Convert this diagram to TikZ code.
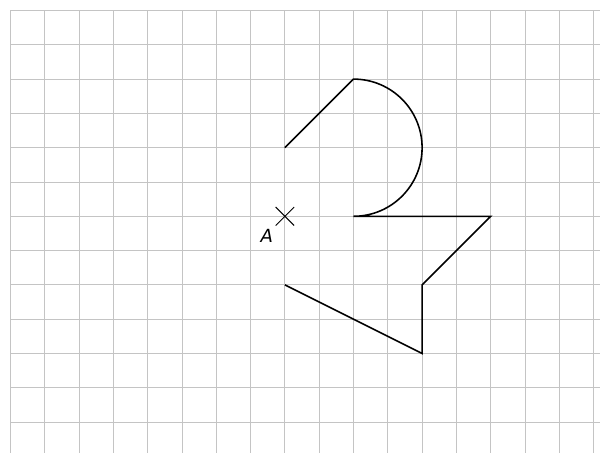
\documentclass[tikz,border=0pt]{standalone}
\usepackage{fontspec}
\setsansfont{DejaVu Sans}
\usetikzlibrary{calc}
\begin{document}
\begin{tikzpicture}[x=1cm,y=1cm,
  gridline/.style={draw={rgb,255:red,196;green,196;blue,196},line width=0.8pt},
  figline/.style={draw=black,line width=1.3pt,line join=miter},
  crossline/.style={draw=black,line width=0.8pt}]
\useasboundingbox (-0.306,0.306) rectangle (17.187,-12.901);
\fill[white] (-0.306,0.306) rectangle (17.187,-12.901);
\foreach \i in {0,...,17} \draw[gridline] (\i,0) -- (\i,-12.901);
\foreach \j in {0,...,12} \draw[gridline] (0,-\j) -- (17.187,-\j);
\coordinate (A) at (8,-6);
\coordinate (P1) at (8,-4);
\coordinate (P2) at (10,-2);
\coordinate (P3) at (10,-6);
\coordinate (P4) at (14,-6);
\coordinate (P5) at (12,-8);
\coordinate (P6) at (12,-10);
\coordinate (P7) at (8,-8);
\draw[figline] (P1) -- (P2) arc[start angle=90,end angle=-90,radius=2] -- (P4) -- (P5) -- (P6) -- (P7);
\draw[crossline] ($(A)+(-0.27,-0.27)$) -- ($(A)+(0.27,0.27)$);
\draw[crossline] ($(A)+(-0.27,0.27)$) -- ($(A)+(0.27,-0.27)$);
\node[font=\sffamily\itshape\fontsize{15}{18}\selectfont] (Alabel) at ($(A)+(-0.53,-0.58)$) {A};
\end{tikzpicture}
\end{document}
